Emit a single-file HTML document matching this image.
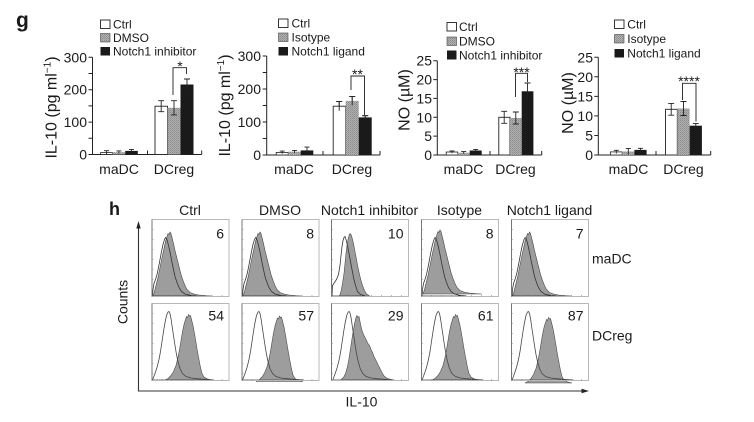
<!DOCTYPE html>
<html><head><meta charset="utf-8"><style>
html,body{margin:0;padding:0;background:#fff;}
svg{display:block;}
text{font-family:"Liberation Sans",Arial,sans-serif;fill:#1a1a1a;}
</style></head><body>
<svg width="754" height="422" viewBox="0 0 754 422" xmlns="http://www.w3.org/2000/svg">
<defs>
<pattern id="gp" width="2" height="2" patternUnits="userSpaceOnUse"><rect width="2" height="2" fill="#b0b0b0"/><rect width="1" height="1" fill="#8a8a8a"/><rect x="1" y="1" width="1" height="1" fill="#9a9a9a"/></pattern>
<path id="mA" d="M0.5,76.5 L1,70 L2,64 L3.5,60 L5,55 L6.5,48 L8,40 L9.5,32 L11,25 L12.5,20 L13.5,18 L14.5,19 L15.5,22 L17,28 L18.5,35 L20,43 L21.5,50 L23,57 L25,63 L27,68 L29.5,72 L33,74.5 L38,75.8 L45,76.5 Z"/>
<path id="mB" d="M1,76.5 L2.5,72 L4,66 L6,58 L8,48 L10,38 L12,29 L13.5,22 L15,17 L16,14 L17,15 L18,12.5 L19,14 L20,18 L21.5,24 L23,31 L24.5,37 L26,43 L27.5,49 L29,55 L31,61 L33,66 L35,70 L38,73 L42,74.5 L47,75.5 L54,76.2 L60,76.5 Z"/>
<path id="mA2" d="M0.5,76.5 L1,66 L3,63 L5,60 L7,55 L8.5,46 L9.5,36 L10.5,27 L11.5,21 L12.5,18 L13.5,17 L14.5,20 L16,26 L17.5,34 L19,42 L20.5,50 L22,58 L24,66 L26,72 L29,75 L34,76.5 Z"/>
<path id="mB2" d="M8,76.5 L9.5,72 L11,64 L12.5,54 L13.5,44 L14.5,34 L15.5,26 L16.5,20 L17.5,16 L18.5,14 L19.5,15 L20.5,18 L22,24 L23.5,32 L25,40 L26.5,48 L28,55 L29.5,61 L31,66 L33,71 L35,74.5 L38,76.5 Z"/>
<path id="dC" d="M0.5,76.5 L1.5,74 L3,70 L5,64 L7,56 L8.5,48 L10,38 L11.5,28 L13,19 L14.5,12 L16,8.5 L17,8 L18,10 L19,15 L20,22 L21.5,32 L23,42 L24.5,51 L26,58 L28,65 L30.5,70 L34,73 L39,74.5 L46,75.3 L55,76 L62,76.5 Z"/>
<path id="dD" d="M13,76.5 L16,75 L19,72 L21.5,68 L24,62 L26,54 L27.5,46 L29,37 L30.5,28 L32,21 L33.5,16 L34.5,13 L35.5,14 L36.5,11 L37.5,12.5 L38.5,12 L39.5,16 L41,22 L42.5,30 L44,39 L45.5,48 L47,56 L48.5,64 L50,70 L52,73.5 L55,75.3 L60,76.5 Z"/>
<path id="dE" d="M9,76.5 L12,74 L14,70 L16,63 L17.5,55 L19,45 L20.5,35 L22,26 L23.5,18 L24.5,14 L25.5,12 L26.5,14 L27.5,13 L28.5,18 L29.5,23 L30.5,27 L32,31 L33.5,34 L35,37 L36.5,40 L38,42 L39.5,46 L41,49 L42.5,53 L44,56 L45.5,59 L47,62 L49,66 L51,70 L53,73 L56,75 L62,76.5 Z"/>
<g id="frame">
<rect x="0" y="0" width="77" height="77" fill="none" stroke="#b8b8b8" stroke-width="1"/>
<line x1="0" y1="0" x2="0" y2="77" stroke="#666" stroke-width="0.8"/>
<path d="M0,10h1.5M0,20h1.5M0,30h1.5M0,40h1.5M0,50h1.5M0,60h1.5M0,70h1.5M10,77v-1.5M20,77v-1.5M30,77v-1.5M40,77v-1.5M50,77v-1.5M60,77v-1.5M70,77v-1.5" stroke="#888" stroke-width="0.6"/>
</g>
</defs>
<rect width="754" height="422" fill="#fff"/>

<!-- g label -->
<text x="16" y="27" font-size="21" font-weight="bold">g</text>

<!-- ===== Panel 1 ===== -->
<g>
<rect x="100.5" y="20" width="9.5" height="8.5" fill="#fff" stroke="#222" stroke-width="0.9"/>
<rect x="100.5" y="33.5" width="9.5" height="8.5" fill="url(#gp)" stroke="#444" stroke-width="0.6"/>
<rect x="100.5" y="47" width="9.5" height="8.5" fill="#1a1a1a"/>
<text x="113" y="28.5" font-size="12">Ctrl</text>
<text x="113" y="42" font-size="12">DMSO</text>
<text x="113" y="55.5" font-size="12">Notch1 inhibitor</text>
<path d="M92.5,57.3V154.5H201.7M201.7,154.5v-4M147.5,154.5v-4" fill="none" stroke="#222" stroke-width="1"/>
<path d="M88.5,154.5h4M88.5,138.3h4M88.5,122.1h4M88.5,105.9h4M88.5,89.7h4M88.5,73.5h4M88.5,57.3h4" stroke="#222" stroke-width="1"/>
<g font-size="14" text-anchor="end"><text x="87" y="159.5">0</text><text x="87" y="127">100</text><text x="87" y="94.7">200</text><text x="87" y="62.3">300</text></g>
<text transform="translate(56.5,107.5) rotate(-90)" font-size="16" text-anchor="middle">IL-10 (pg ml<tspan font-size="10" dy="-6">−1</tspan><tspan dy="6">)</tspan></text>
<rect x="100.5" y="152.6" width="12.2" height="1.9" fill="#fff" stroke="#222" stroke-width="0.8"/>
<rect x="112.7" y="152.2" width="12.5" height="2.3" fill="url(#gp)"/>
<rect x="125.2" y="150.9" width="12.6" height="3.6" fill="#1a1a1a"/>
<rect x="155" y="106.2" width="12.5" height="48.3" fill="#fff" stroke="#222" stroke-width="0.9"/>
<rect x="167.5" y="107.8" width="13" height="46.7" fill="url(#gp)"/>
<rect x="180.5" y="84.5" width="13" height="70" fill="#1a1a1a"/>
<path d="M106.6,150.7v3.8M104,150.7h5.2M118.9,150.9v2.6M116.4,150.9h5M131.5,149.6v2.6M129,149.6h5M161.2,100.7v11M158.2,100.7h6M158.2,111.7h6M174,100.7v14.2M171,100.7h6M171,114.9h6M187,79v11M184,79h6" stroke="#222" stroke-width="0.9" fill="none"/>
<path d="M173,95V67.7H186.5V74" fill="none" stroke="#222" stroke-width="0.9"/>
<text x="180" y="71" font-size="14" text-anchor="middle">*</text>
<g font-size="14" text-anchor="middle"><text x="119" y="174">maDC</text><text x="174" y="174">DCreg</text></g>
</g>

<!-- ===== Panel 2 ===== -->
<g>
<rect x="278.5" y="19" width="9.5" height="8.5" fill="#fff" stroke="#222" stroke-width="0.9"/>
<rect x="278.5" y="33" width="9.5" height="8.5" fill="url(#gp)" stroke="#444" stroke-width="0.6"/>
<rect x="278.5" y="47" width="9.5" height="8.5" fill="#1a1a1a"/>
<text x="291.5" y="27.5" font-size="12">Ctrl</text>
<text x="291.5" y="41.5" font-size="12">Isotype</text>
<text x="291.5" y="55.5" font-size="12">Notch1 ligand</text>
<path d="M266.7,56V155H380M380,155v-4M323,155v-4" fill="none" stroke="#222" stroke-width="1"/>
<path d="M262.7,155h4M262.7,138.5h4M262.7,122h4M262.7,105.5h4M262.7,89h4M262.7,72.5h4M262.7,56h4" stroke="#222" stroke-width="1"/>
<g font-size="14" text-anchor="end"><text x="261" y="160">0</text><text x="261" y="127">100</text><text x="261" y="94">200</text><text x="261" y="61">300</text></g>
<text transform="translate(230,105.5) rotate(-90)" font-size="16" text-anchor="middle">IL-10 (pg ml<tspan font-size="10" dy="-6">−1</tspan><tspan dy="6">)</tspan></text>
<rect x="276.2" y="152.4" width="12" height="2.6" fill="#fff" stroke="#222" stroke-width="0.8"/>
<rect x="288.2" y="151.7" width="12.5" height="3.3" fill="url(#gp)"/>
<rect x="300.7" y="150.4" width="12.6" height="4.6" fill="#1a1a1a"/>
<path d="M282.2,151.1v2.6M279.7,151.1h5M294.5,150.4v2.6M292,150.4h5M307,147.1v6.6M304.5,147.1h5M339.2,101.6v9.2M336.2,101.6h6M336.2,110.8h6M352.2,96.6v8.6M349.2,96.6h6M349.2,105.2h6M365.2,115.7v3.4M362.2,115.7h6" stroke="#222" stroke-width="0.9" fill="none"/>
<rect x="333.2" y="106.2" width="12.5" height="48.8" fill="#fff" stroke="#222" stroke-width="0.9"/>
<rect x="345.7" y="100.9" width="13" height="54.1" fill="url(#gp)"/>
<rect x="358.7" y="117.4" width="13" height="37.6" fill="#1a1a1a"/>
<path d="M339.2,101.6v9.2M336.2,101.6h6M352.2,96.6v8.6M349.2,96.6h6M365.2,115.7v3.4M362.2,115.7h6" stroke="#222" stroke-width="0.9" fill="none"/>
<path d="M351,90V76H364.5V115" fill="none" stroke="#222" stroke-width="0.9"/>
<text x="357.5" y="79" font-size="14" text-anchor="middle">**</text>
<g font-size="14" text-anchor="middle"><text x="294" y="174">maDC</text><text x="352" y="174">DCreg</text></g>
</g>

<!-- ===== Panel 3 ===== -->
<g>
<rect x="447" y="22.5" width="9.5" height="8.5" fill="#fff" stroke="#222" stroke-width="0.9"/>
<rect x="447" y="37" width="9.5" height="8.5" fill="url(#gp)" stroke="#444" stroke-width="0.6"/>
<rect x="447" y="50.5" width="9.5" height="9" fill="#1a1a1a"/>
<text x="459" y="31" font-size="12">Ctrl</text>
<text x="459" y="45.5" font-size="12">DMSO</text>
<text x="459" y="59.5" font-size="12">Notch1 inhibitor</text>
<path d="M437.3,60.7V155H541.7M541.7,155v-4M490,155v-4" fill="none" stroke="#222" stroke-width="1"/>
<path d="M433.3,155h4M433.3,136.1h4M433.3,117.3h4M433.3,98.4h4M433.3,79.6h4M433.3,60.7h4" stroke="#222" stroke-width="1"/>
<g font-size="14" text-anchor="end"><text x="432" y="160">0</text><text x="432" y="141.1">5</text><text x="432" y="122.3">10</text><text x="432" y="103.4">15</text><text x="432" y="84.6">20</text><text x="432" y="65.7">25</text></g>
<text transform="translate(409.5,100) rotate(-90)" font-size="16" text-anchor="middle">NO (µM)</text>
<rect x="446.2" y="152" width="11.5" height="3" fill="#fff" stroke="#222" stroke-width="0.8"/>
<rect x="457.7" y="152.7" width="12" height="2.3" fill="url(#gp)"/>
<rect x="469.7" y="150.5" width="12" height="4.5" fill="#1a1a1a"/>
<path d="M452,150.9v2.2M449.5,150.9h5M463.7,151.6v2.2M461.2,151.6h5M475.7,149.4v2.2M473.2,149.4h5" stroke="#222" stroke-width="0.9" fill="none"/>
<rect x="498.8" y="117.3" width="11.2" height="37.7" fill="#fff" stroke="#222" stroke-width="0.9"/>
<rect x="510" y="118" width="11.7" height="37" fill="url(#gp)"/>
<rect x="521.7" y="91.3" width="11.7" height="63.7" fill="#1a1a1a"/>
<path d="M504.2,111.3v12M501.2,111.3h6M501.2,123.3h6M515.8,112v12M512.8,112h6M512.8,124h6M527.5,83v16.6M524.5,83h6" stroke="#222" stroke-width="0.9" fill="none"/>
<path d="M515.5,97V73.3H527.5V82" fill="none" stroke="#222" stroke-width="0.9"/>
<text x="521.5" y="77" font-size="14" text-anchor="middle">***</text>
<g font-size="14" text-anchor="middle"><text x="463.5" y="174">maDC</text><text x="515.5" y="174">DCreg</text></g>
</g>

<!-- ===== Panel 4 ===== -->
<g>
<rect x="614.5" y="20" width="9.5" height="8.5" fill="#fff" stroke="#222" stroke-width="0.9"/>
<rect x="614.5" y="34.5" width="9.5" height="8.5" fill="url(#gp)" stroke="#444" stroke-width="0.6"/>
<rect x="614.5" y="49" width="9.5" height="8.5" fill="#1a1a1a"/>
<text x="627.3" y="28.5" font-size="12">Ctrl</text>
<text x="627.3" y="43" font-size="12">Isotype</text>
<text x="627.3" y="57.5" font-size="12">Notch1 ligand</text>
<path d="M598.3,57.3V155H710.7M710.7,155v-4M656,155v-4" fill="none" stroke="#222" stroke-width="1"/>
<path d="M594.3,155h4M594.3,135.5h4M594.3,115.9h4M594.3,96.4h4M594.3,76.8h4M594.3,57.3h4" stroke="#222" stroke-width="1"/>
<g font-size="14" text-anchor="end"><text x="593" y="160">0</text><text x="593" y="140.5">5</text><text x="593" y="120.9">10</text><text x="593" y="101.4">15</text><text x="593" y="81.8">20</text><text x="593" y="62.3">25</text></g>
<text transform="translate(573,103) rotate(-90)" font-size="16" text-anchor="middle">NO (µM)</text>
<rect x="610.5" y="151.9" width="11.7" height="3.1" fill="#fff" stroke="#222" stroke-width="0.8"/>
<rect x="622.2" y="151.5" width="12.2" height="3.5" fill="url(#gp)"/>
<rect x="634.4" y="149.9" width="12.2" height="5.1" fill="#1a1a1a"/>
<path d="M616.3,150.3v3.2M613.8,150.3h5M628.3,148.4v6.2M625.8,148.4h5M640.5,148.3v3.2M638,148.3h5" stroke="#222" stroke-width="0.9" fill="none"/>
<rect x="665.5" y="109.3" width="11.8" height="45.7" fill="#fff" stroke="#222" stroke-width="0.9"/>
<rect x="677.3" y="108.5" width="12.3" height="46.5" fill="url(#gp)"/>
<rect x="689.6" y="125.7" width="12.3" height="29.3" fill="#1a1a1a"/>
<path d="M671.2,103.4v11.8M668.2,103.4h6M668.2,115.2h6M683.5,101.5v14M680.5,101.5h6M680.5,115.5h6M695.8,123.4v4.6M692.8,123.4h6" stroke="#222" stroke-width="0.9" fill="none"/>
<path d="M682.5,100V83.3H696V121.5" fill="none" stroke="#222" stroke-width="0.9"/>
<text x="689" y="86" font-size="14" text-anchor="middle">****</text>
<g font-size="14" text-anchor="middle"><text x="628.5" y="174">maDC</text><text x="683.5" y="174">DCreg</text></g>
</g>

<!-- ===== h section ===== -->
<text x="109" y="215" font-size="18" font-weight="bold">h</text>
<g font-size="14" text-anchor="middle">
<text x="190" y="215">Ctrl</text>
<text x="280" y="215">DMSO</text>
<text x="369.5" y="215">Notch1 inhibitor</text>
<text x="459.5" y="215">Isotype</text>
<text x="549.5" y="215">Notch1 ligand</text>
</g>
<g font-size="14">
<text x="592" y="263.5">maDC</text>
<text x="592" y="340.5">DCreg</text>
</g>
<!-- outer axes -->
<path d="M138.5,226V391H584" fill="none" stroke="#333" stroke-width="1.1"/>
<path d="M138.5,221L136.3,228.5H140.7Z" fill="#222"/>
<path d="M589,391L581.5,388.8V393.2Z" fill="#222"/>
<text transform="translate(127.5,302) rotate(-90)" font-size="14" text-anchor="middle">Counts</text>
<text x="361.5" y="406.5" font-size="14" text-anchor="middle">IL-10</text>

<!-- top row maDC -->
<g transform="translate(152,219.5)">
<rect width="77" height="77" fill="#fff"/>
<use href="#mA" fill="#fff"/><use href="#mB" fill="#9d9d9d" stroke="#4a4a4a" stroke-width="0.6"/><use href="#mA" fill="none" stroke="#333" stroke-width="0.8"/>
<use href="#frame"/><text x="72" y="238.5" transform="translate(0,-219.5)" font-size="14" text-anchor="end">6</text>
</g>
<g transform="translate(242,219.5)">
<rect width="77" height="77" fill="#fff"/>
<use href="#mA" fill="#fff"/><use href="#mB" fill="#9d9d9d" stroke="#4a4a4a" stroke-width="0.6"/><use href="#mA" fill="none" stroke="#333" stroke-width="0.8"/>
<use href="#frame"/><text x="72" y="19" font-size="14" text-anchor="end">8</text>
</g>
<g transform="translate(331.5,219.5)">
<rect width="77" height="77" fill="#fff"/>
<use href="#mA2" fill="#fff"/><use href="#mB2" fill="#9d9d9d" stroke="#4a4a4a" stroke-width="0.6"/><use href="#mA2" fill="none" stroke="#333" stroke-width="0.8"/>
<use href="#frame"/><text x="72" y="19" font-size="14" text-anchor="end">10</text>
</g>
<g transform="translate(421.5,219.5)">
<rect width="77" height="77" fill="#fff"/>
<use href="#mA" fill="#fff"/><use href="#mB" fill="#9d9d9d" stroke="#4a4a4a" stroke-width="0.6" transform="translate(0.5,-2)"/><use href="#mA" fill="none" stroke="#333" stroke-width="0.8"/>
<use href="#frame"/><text x="72" y="19" font-size="14" text-anchor="end">8</text>
</g>
<g transform="translate(511.5,219.5)">
<rect width="77" height="77" fill="#fff"/>
<use href="#mA" fill="#fff"/><use href="#mB" fill="#9d9d9d" stroke="#4a4a4a" stroke-width="0.6"/><use href="#mA" fill="none" stroke="#333" stroke-width="0.8"/>
<use href="#frame"/><text x="72" y="19" font-size="14" text-anchor="end">7</text>
</g>

<!-- bottom row DCreg -->
<g transform="translate(152,303.5)">
<rect width="77" height="77" fill="#fff"/>
<use href="#dC" fill="#fff"/><use href="#dD" fill="#9d9d9d" stroke="#4a4a4a" stroke-width="0.6"/><use href="#dC" fill="none" stroke="#444" stroke-width="0.8"/>
<use href="#frame"/><text x="72" y="17" font-size="14" text-anchor="end">54</text>
</g>
<g transform="translate(242,303.5)">
<rect width="77" height="77" fill="#fff"/>
<use href="#dC" fill="#fff"/><use href="#dD" fill="#9d9d9d" stroke="#4a4a4a" stroke-width="0.6" transform="translate(1,1.5)"/><use href="#dC" fill="none" stroke="#444" stroke-width="0.8"/>
<use href="#frame"/><text x="72" y="17" font-size="14" text-anchor="end">57</text>
</g>
<g transform="translate(331.5,303.5)">
<rect width="77" height="77" fill="#fff"/>
<use href="#dC" fill="#fff" transform="translate(0.7,0)"/><use href="#dE" fill="#9d9d9d" stroke="#4a4a4a" stroke-width="0.6"/><use href="#dC" fill="none" stroke="#444" stroke-width="0.8" transform="translate(0.7,0)"/>
<use href="#frame"/><text x="72" y="17" font-size="14" text-anchor="end">29</text>
</g>
<g transform="translate(421.5,303.5)">
<rect width="77" height="77" fill="#fff"/>
<use href="#dC" fill="#fff"/><use href="#dD" fill="#9d9d9d" stroke="#4a4a4a" stroke-width="0.6" transform="translate(-2.5,0)"/><use href="#dC" fill="none" stroke="#444" stroke-width="0.8"/>
<use href="#frame"/><text x="72" y="17" font-size="14" text-anchor="end">61</text>
</g>
<g transform="translate(511.5,303.5)">
<rect width="77" height="77" fill="#fff"/>
<use href="#dC" fill="#fff"/><use href="#dD" fill="#9d9d9d" stroke="#4a4a4a" stroke-width="0.6" transform="translate(0.5,3)"/><use href="#dC" fill="none" stroke="#444" stroke-width="0.8"/>
<use href="#frame"/><text x="72" y="17" font-size="14" text-anchor="end">87</text>
</g>
</svg>
</body></html>
